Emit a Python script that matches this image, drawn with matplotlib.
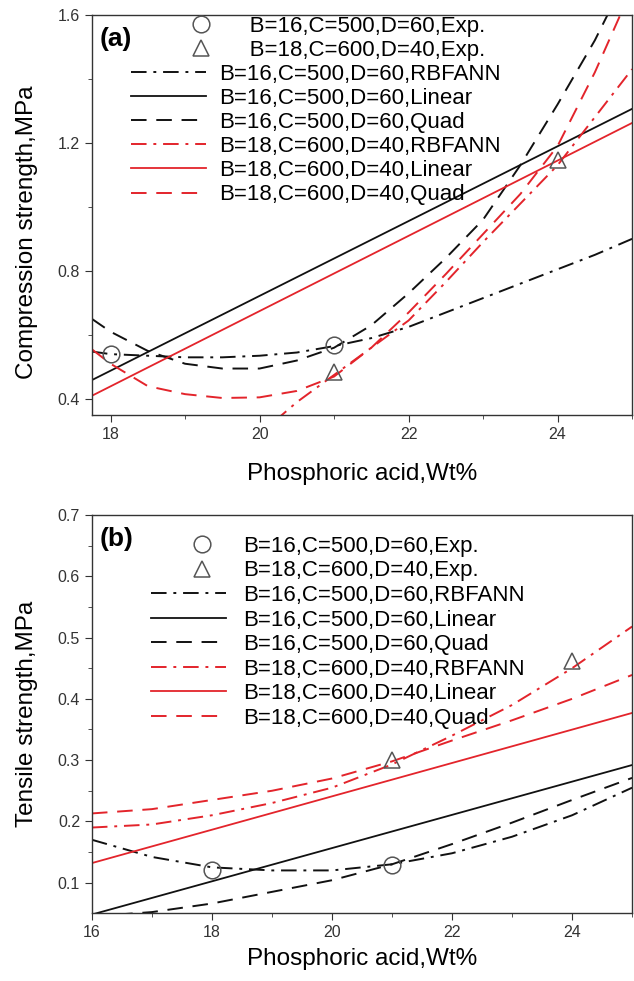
import matplotlib
matplotlib.use("Agg")
import matplotlib.pyplot as plt
from matplotlib.lines import Line2D
from matplotlib.legend_handler import HandlerLine2D
import numpy as np

plt.rcParams["font.family"] = ["Liberation Sans", "DejaVu Sans"]

RED = "#e3242b"
BLK = "#111111"
GREY = "#555555"

LABELS = ["B=16,C=500,D=60,Exp.", "B=18,C=600,D=40,Exp.",
          "B=16,C=500,D=60,RBFANN", "B=16,C=500,D=60,Linear", "B=16,C=500,D=60,Quad",
          "B=18,C=600,D=40,RBFANN", "B=18,C=600,D=40,Linear", "B=18,C=600,D=40,Quad"]

# ---- (a) compression strength ----
a_exp16_x = [18, 21]
a_exp16_y = [0.54, 0.57]
a_exp18_x = [21, 24]
a_exp18_y = [0.484, 1.145]

a_lin16_x = [17.75, 25]
a_lin16_y = [0.459, 1.306]
a_lin18_x = [17.75, 25]
a_lin18_y = [0.41, 1.262]

a_rbf16_x = [17.75, 18, 18.5, 19, 19.5, 20, 20.5, 21, 21.5, 22, 22.5, 23, 23.5, 24, 24.5, 25]
a_rbf16_y = [0.548, 0.54, 0.535, 0.53, 0.53, 0.535, 0.545, 0.565, 0.59, 0.625, 0.67, 0.715, 0.76, 0.805, 0.85, 0.90]

a_quad16_x = [17.75, 18, 18.5, 19, 19.5, 20, 20.5, 21, 21.5, 22, 22.5, 23, 23.5, 24, 24.5, 24.8]
a_quad16_y = [0.65, 0.61, 0.55, 0.51, 0.495, 0.495, 0.52, 0.56, 0.63, 0.73, 0.84, 0.96, 1.13, 1.32, 1.52, 1.66]

a_rbf18_x = [20.2, 20.5, 21, 21.5, 22, 22.5, 23, 23.5, 24, 24.5, 25]
a_rbf18_y = [0.33, 0.39, 0.475, 0.56, 0.645, 0.765, 0.89, 1.01, 1.13, 1.28, 1.43]

a_quad18_x = [17.75, 18, 18.5, 19, 19.5, 20, 20.5, 21, 21.5, 22, 22.5, 23, 23.5, 24, 24.5, 24.9]
a_quad18_y = [0.555, 0.51, 0.44, 0.415, 0.403, 0.405, 0.425, 0.47, 0.56, 0.67, 0.79, 0.915, 1.04, 1.19, 1.42, 1.63]

# ---- (b) tensile strength ----
b_exp16_x = [18, 21]
b_exp16_y = [0.121, 0.129]
b_exp18_x = [21, 24]
b_exp18_y = [0.30, 0.461]

b_lin16_x = [16, 25]
b_lin16_y = [0.048, 0.292]
b_lin18_x = [16, 25]
b_lin18_y = [0.132, 0.377]

b_rbf16_x = [16, 17, 18, 19, 20, 21, 22, 23, 24, 25]
b_rbf16_y = [0.17, 0.142, 0.125, 0.12, 0.12, 0.13, 0.148, 0.175, 0.21, 0.255]

b_quad16_x = [16, 17, 18, 19, 20, 21, 22, 23, 24, 25]
b_quad16_y = [0.045, 0.052, 0.066, 0.085, 0.104, 0.13, 0.163, 0.198, 0.235, 0.271]

b_rbf18_x = [16, 17, 18, 19, 20, 21, 22, 23, 24, 25]
b_rbf18_y = [0.19, 0.195, 0.21, 0.23, 0.255, 0.293, 0.34, 0.39, 0.45, 0.518]

b_quad18_x = [16, 17, 18, 19, 20, 21, 22, 23, 24, 25]
b_quad18_y = [0.213, 0.22, 0.235, 0.25, 0.27, 0.298, 0.332, 0.365, 0.4, 0.439]

DASH = (0, (8, 5))
DASHDOT = (0, (8, 3.5, 1.5, 3.5))
LEG_FS = 16


class RightMarker(HandlerLine2D):
    # single legend marker moved towards the right end of the handle
    def __init__(self, frac, **kw):
        super().__init__(numpoints=1, **kw)
        self.frac = frac

    def get_xdata(self, legend, xdescent, ydescent, width, height, fontsize):
        p = -xdescent + self.frac * width
        return np.array([p, p]), np.array([p])


def draw_panel(ax, d, tag, frac):
    ax.plot(d["rbf16"][0], d["rbf16"][1], color=BLK, ls=DASHDOT, lw=1.4)
    ax.plot(d["lin16"][0], d["lin16"][1], color=BLK, ls="-", lw=1.3)
    ax.plot(d["quad16"][0], d["quad16"][1], color=BLK, ls=DASH, lw=1.4)
    ax.plot(d["rbf18"][0], d["rbf18"][1], color=RED, ls=DASHDOT, lw=1.4)
    ax.plot(d["lin18"][0], d["lin18"][1], color=RED, ls="-", lw=1.3)
    ax.plot(d["quad18"][0], d["quad18"][1], color=RED, ls=DASH, lw=1.4)
    ax.plot(d["exp16"][0], d["exp16"][1], ls="none", marker="o", ms=12,
            mfc="none", mec=GREY, mew=1.1)
    ax.plot(d["exp18"][0], d["exp18"][1], ls="none", marker="^", ms=12,
            mfc="none", mec=GREY, mew=1.1)

    ax.text(0.015, 0.94, tag, transform=ax.transAxes, fontsize=19,
            fontweight="bold", ha="left", va="center")

    for s in ax.spines.values():
        s.set_linewidth(1.0)
        s.set_color("#333333")
    ax.tick_params(which="both", direction="out", top=False, right=False,
                   labelsize=11.5, colors="#333333")
    ax.tick_params(which="major", length=5)
    ax.tick_params(which="minor", length=3)

    handles = [
        Line2D([], [], ls="none", marker="o", ms=12, mfc="none", mec=GREY, mew=1.1),
        Line2D([], [], ls="none", marker="^", ms=12, mfc="none", mec=GREY, mew=1.1),
        Line2D([], [], color=BLK, ls=DASHDOT, lw=1.4),
        Line2D([], [], color=BLK, ls="-", lw=1.3),
        Line2D([], [], color=BLK, ls=DASH, lw=1.4),
        Line2D([], [], color=RED, ls=DASHDOT, lw=1.4),
        Line2D([], [], color=RED, ls="-", lw=1.3),
        Line2D([], [], color=RED, ls=DASH, lw=1.4),
    ]
    hmap = {handles[0]: RightMarker(frac), handles[1]: RightMarker(frac)}
    return handles, hmap


fig = plt.figure(figsize=(6.34, 9.81), dpi=100)
ax_a = fig.add_axes([0.145, 0.577, 0.852, 0.408])
ax_b = fig.add_axes([0.145, 0.069, 0.852, 0.406])

data_a = {"exp16": (a_exp16_x, a_exp16_y), "exp18": (a_exp18_x, a_exp18_y),
          "lin16": (a_lin16_x, a_lin16_y), "lin18": (a_lin18_x, a_lin18_y),
          "rbf16": (a_rbf16_x, a_rbf16_y), "rbf18": (a_rbf18_x, a_rbf18_y),
          "quad16": (a_quad16_x, a_quad16_y), "quad18": (a_quad18_x, a_quad18_y)}
data_b = {"exp16": (b_exp16_x, b_exp16_y), "exp18": (b_exp18_x, b_exp18_y),
          "lin16": (b_lin16_x, b_lin16_y), "lin18": (b_lin18_x, b_lin18_y),
          "rbf16": (b_rbf16_x, b_rbf16_y), "rbf18": (b_rbf18_x, b_rbf18_y),
          "quad16": (b_quad16_x, b_quad16_y), "quad18": (b_quad18_x, b_quad18_y)}

# (a) -- the Exp. entries sit a little further right in this panel
labels_a = ["     " + s for s in LABELS[:2]] + LABELS[2:]
h, hm = draw_panel(ax_a, data_a, "(a)", 0.93)
ax_a.set_xlim(17.75, 25)
ax_a.set_ylim(0.35, 1.6)
ax_a.set_xticks([18, 20, 22, 24])
ax_a.set_xticks([19, 21, 23, 25], minor=True)
ax_a.set_yticks([0.4, 0.8, 1.2, 1.6])
ax_a.set_yticks([0.6, 1.0, 1.4], minor=True)
ax_a.set_xlabel("Phosphoric acid,Wt%", fontsize=17.5, labelpad=15)
ax_a.set_ylabel("Compression strength,MPa", fontsize=17.5)
ax_a.yaxis.set_label_coords(-0.10, 0.457)
ax_a.legend(h, labels_a, handler_map=hm, loc="upper left", bbox_to_anchor=(0.055, 1.02),
            frameon=False, fontsize=LEG_FS, handlelength=3.4, handletextpad=0.6,
            labelspacing=0.14, borderaxespad=0.0)

# (b)
h, hm = draw_panel(ax_b, data_b, "(b)", 0.68)
ax_b.set_xlim(16, 25)
ax_b.set_ylim(0.05, 0.7)
ax_b.set_xticks([16, 18, 20, 22, 24])
ax_b.set_xticks([17, 19, 21, 23, 25], minor=True)
ax_b.set_yticks([0.1, 0.2, 0.3, 0.4, 0.5, 0.6, 0.7])
ax_b.set_yticks(np.arange(0.15, 0.7, 0.1), minor=True)
ax_b.set_xlabel("Phosphoric acid,Wt%", fontsize=17.5, labelpad=6)
ax_b.set_ylabel("Tensile strength,MPa", fontsize=17.5)
ax_b.yaxis.set_label_coords(-0.10, 0.5)
ax_b.legend(h, LABELS, handler_map=hm, loc="upper left", bbox_to_anchor=(0.092, 0.97),
            frameon=False, fontsize=LEG_FS, handlelength=3.4, handletextpad=0.75,
            labelspacing=0.16, borderaxespad=0.0)

fig.savefig("out.png", dpi=100)
